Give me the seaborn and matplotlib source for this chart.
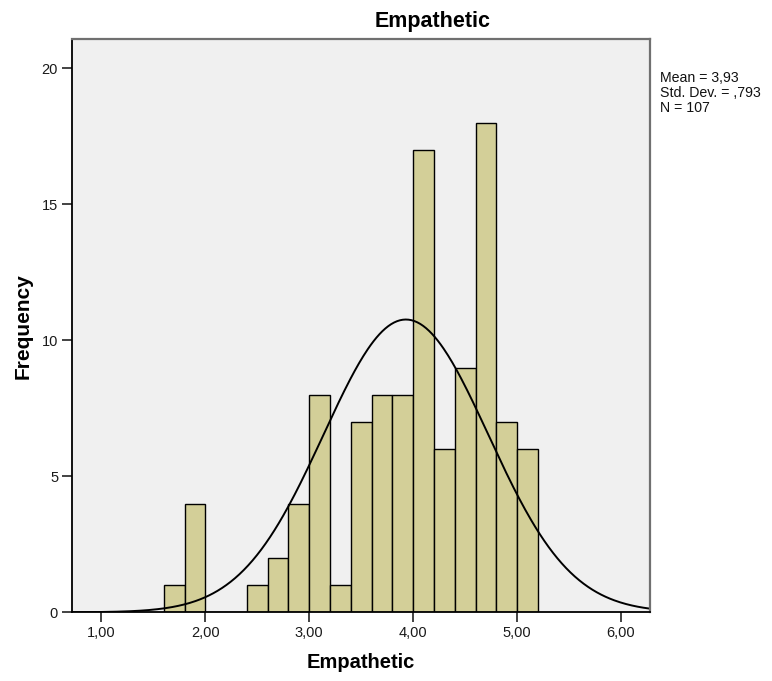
import numpy as np
import matplotlib
matplotlib.use("Agg")
import matplotlib.pyplot as plt
import seaborn as sns

# ---- data ----
bin_left = [1.6, 1.8, 2.0, 2.2, 2.4, 2.6, 2.8, 3.0, 3.2, 3.4, 3.6, 3.8, 4.0, 4.2, 4.4, 4.6, 4.8, 5.0]
counts   = [1,   4,   0,   0,   1,   2,   4,   8,   1,   7,   8,   8,   17,  6,   9,   18,  7,   6]
bin_width = 0.2
mean_val = 3.93
std_val = 0.793
n_val = 107
x_ticks = [1, 2, 3, 4, 5, 6]
x_tick_labels = ["1,00", "2,00", "3,00", "4,00", "5,00", "6,00"]
y_ticks = [0, 5, 10, 15, 20]
title = "Empathetic"
x_label = "Empathetic"
y_label = "Frequency"
stats_text = "Mean = 3,93\nStd. Dev. = ,793\nN = 107"

sns.set_theme(style="white")
plt.rcParams['font.family'] = ['Liberation Sans', 'DejaVu Sans']

W, H = 772, 681
fig = plt.figure(figsize=(W / 100, H / 100), dpi=100)
left, right, top, bottom = 72, 650.3, 39.3, 612.3
aw, ah = right - left, bottom - top
ax = fig.add_axes([left / W, 1 - bottom / H, aw / W, ah / H])
ax.set_facecolor("#F0F0F0")

centers = [b + bin_width / 2 for b in bin_left]
edges = bin_left + [bin_left[-1] + bin_width]
sns.histplot(x=centers, weights=counts, bins=edges, ax=ax,
             color="#D3CF98", edgecolor="black", linewidth=1.0, alpha=1.0)

xs = np.linspace(0.7, 6.3, 400)
ys = n_val * bin_width * np.exp(-0.5 * ((xs - mean_val) / std_val) ** 2) / (std_val * np.sqrt(2 * np.pi))
sns.lineplot(x=xs, y=ys, ax=ax, color="black", linewidth=1.4)

ax.set_xlim(0.717, 6.282)
ax.set_ylim(0, 21.07)
ax.set_xticks(x_ticks)
ax.set_xticklabels(x_tick_labels)
ax.set_yticks(y_ticks)
ax.tick_params(axis="both", which="major", direction="out", length=7, width=1.2,
               color="#222222", labelsize=10.5, labelcolor="#1a1a1a", pad=3,
               bottom=True, left=True)
ax.set_xlabel(x_label, fontsize=14.5, fontweight="bold", color="black")
ax.set_ylabel(y_label, fontsize=15, fontweight="bold", color="black")
ax.xaxis.label.set_va("center")
ax.yaxis.label.set_va("center")
ax.xaxis.set_label_coords((361 - left) / aw, -(663 - bottom) / ah)
ax.yaxis.set_label_coords((23 - left) / aw, 0.5)

for s in ["left", "bottom"]:
    ax.spines[s].set_color("black")
    ax.spines[s].set_linewidth(1.3)
for s in ["top", "right"]:
    ax.spines[s].set_color("#707070")
    ax.spines[s].set_linewidth(1.6)

fig.text(433 / W, 1 - 21 / H, title, ha="center", va="center",
         fontsize=15.5, fontweight="bold", color="black")
fig.text(660 / W, 1 - 71 / H, stats_text, ha="left", va="top",
         fontsize=10.2, linespacing=1.08, color="#111111")

fig.savefig("out.png", dpi=100)
